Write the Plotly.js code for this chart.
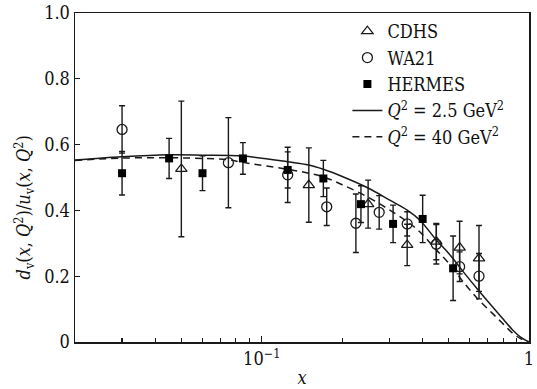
<!DOCTYPE html>
<html>
<head>
<meta charset="utf-8">
<script src="https://cdn.plot.ly/plotly-3.0.1.min.js"></script>
<style>html,body{margin:0;padding:0;background:#fff;}#chart{width:537px;height:389px;}</style>
</head>
<body>
<div id="chart"></div>
<script>
// CDHS
const cdhsX = [0.05, 0.15, 0.25, 0.35, 0.45, 0.55, 0.65];
const cdhsY = [0.526, 0.477, 0.419, 0.295, 0.305, 0.287, 0.254];
const cdhsErr = [0.206, 0.113, 0.073, 0.063, 0.055, 0.08, 0.1];
// WA21
const wa21X = [0.03, 0.075, 0.125, 0.175, 0.225, 0.275, 0.35, 0.45, 0.55, 0.65];
const wa21Y = [0.646, 0.545, 0.508, 0.411, 0.361, 0.394, 0.359, 0.297, 0.229, 0.2];
const wa21Err = [0.072, 0.137, 0.084, 0.057, 0.089, 0.051, 0.037, 0.06, 0.045, 0.069];
// HERMES
const hermesX = [0.03, 0.045, 0.06, 0.085, 0.125, 0.17, 0.235, 0.31, 0.40, 0.52];
const hermesY = [0.513, 0.558, 0.513, 0.558, 0.523, 0.497, 0.419, 0.359, 0.374, 0.224];
const hermesErr = [0.066, 0.061, 0.053, 0.048, 0.055, 0.055, 0.056, 0.057, 0.072, 0.098];
// Curves
const q25X = [0.02, 0.03, 0.045, 0.06, 0.085, 0.125, 0.15, 0.17, 0.2, 0.25, 0.3, 0.35, 0.39, 0.45, 0.5, 0.58, 0.65, 0.73, 0.8, 0.87, 0.93, 1.0];
const q25Y = [0.553, 0.563, 0.569, 0.568, 0.565, 0.548, 0.538, 0.525, 0.503, 0.468, 0.432, 0.401, 0.371, 0.31, 0.27, 0.204, 0.155, 0.107, 0.07, 0.036, 0.015, 0.0];
const q40X = [0.02, 0.03, 0.045, 0.06, 0.075, 0.085, 0.125, 0.15, 0.17, 0.2, 0.25, 0.3, 0.35, 0.39, 0.45, 0.5, 0.58, 0.65, 0.73, 0.8, 0.87, 0.93, 1.0];
const q40Y = [0.552, 0.559, 0.56, 0.558, 0.554, 0.546, 0.525, 0.513, 0.502, 0.478, 0.44, 0.402, 0.366, 0.335, 0.28, 0.24, 0.173, 0.127, 0.087, 0.055, 0.026, 0.01, 0.0];
// Ticks
const xTickVals = [0.1, 1];
const xTickText = ['10<sup>−1</sup>', '1'];
const xMinorVals = [0.03, 0.04, 0.05, 0.06, 0.07, 0.08, 0.09, 0.2, 0.3, 0.4, 0.5, 0.6, 0.7, 0.8, 0.9];
const yTickVals = [0, 0.2, 0.4, 0.6, 0.8, 1.0];
const yTickText = ['0', '0.2', '0.4', '0.6', '0.8', '1.0'];

const ink = '#1a1a1a';
const FONT = 'DejaVu Serif Condensed';
const txt = {family: FONT, size: 18, color: '#111'};
const errStyle = arr => ({type: 'data', array: arr, visible: true, color: ink, thickness: 1.4, width: 3});

const traces = [
  {x: q25X, y: q25Y, mode: 'lines', name: '<i>Q</i><sup>2</sup> = 2.5 GeV<sup>2</sup>', legendrank: 4,
   line: {color: ink, width: 1.5, shape: 'spline'}},
  {x: q40X, y: q40Y, mode: 'lines', name: '<i>Q</i><sup>2</sup> = 40 GeV<sup>2</sup>', legendrank: 5,
   line: {color: ink, width: 1.5, dash: '7px,5px', shape: 'spline'}},
  {x: cdhsX, y: cdhsY, mode: 'markers', name: 'CDHS', legendrank: 1, error_y: errStyle(cdhsErr),
   marker: {symbol: 'triangle-up-open', size: 10, color: ink, line: {color: ink, width: 1.3}}},
  {x: wa21X, y: wa21Y, mode: 'markers', name: 'WA21', legendrank: 2, error_y: errStyle(wa21Err),
   marker: {symbol: 'circle-open', size: 10, color: ink, line: {color: ink, width: 1.3}}},
  {x: hermesX, y: hermesY, mode: 'markers', name: 'HERMES', legendrank: 3, error_y: errStyle(hermesErr),
   marker: {symbol: 'square', size: 8, color: '#000', line: {color: '#000', width: 0}}}
];

const layout = {
  width: 537, height: 389,
  margin: {l: 75, r: 8, t: 13, b: 47},
  paper_bgcolor: '#fff', plot_bgcolor: '#fff',
  font: txt,
  showlegend: true,
  legend: {x: 0.6, xanchor: 'left', y: 1.0, yanchor: 'top', bgcolor: 'rgba(0,0,0,0)',
           font: txt, tracegroupgap: 0},
  xaxis: {
    type: 'log', range: [Math.log10(0.02), 0],
    tickmode: 'array', tickvals: xTickVals, ticktext: xTickText,
    ticks: 'inside', ticklen: 6, tickwidth: 1.3, tickcolor: ink,
    minor: {tickmode: 'array', tickvals: xMinorVals, ticks: 'inside', ticklen: 4, tickwidth: 1.2, tickcolor: ink, showgrid: false},
    showline: true, linecolor: ink, linewidth: 1.5, mirror: true,
    showgrid: false, zeroline: false,
    tickfont: txt,
    title: {text: '<i>x</i>', font: txt, standoff: 3}
  },
  yaxis: {
    range: [0, 1],
    tickmode: 'array', tickvals: yTickVals, ticktext: yTickText,
    ticks: 'inside', ticklen: 5, tickwidth: 1.3, tickcolor: ink,
    showline: true, linecolor: ink, linewidth: 1.5, mirror: true,
    showgrid: false, zeroline: false,
    tickfont: txt
  },
  annotations: [{
    xref: 'paper', yref: 'paper', x: -0.113, y: 0.408, xanchor: 'center', yanchor: 'middle',
    textangle: -90, showarrow: false,
    text: '<i>d</i><sub>v</sub>(<i>x</i>, <i>Q</i><sup>2</sup>)/<i>u</i><sub>v</sub>(<i>x</i>, <i>Q</i><sup>2</sup>)',
    font: txt
  }]
};

Plotly.newPlot('chart', traces, layout, {displayModeBar: false, staticPlot: true});
</script>
</body>
</html>
